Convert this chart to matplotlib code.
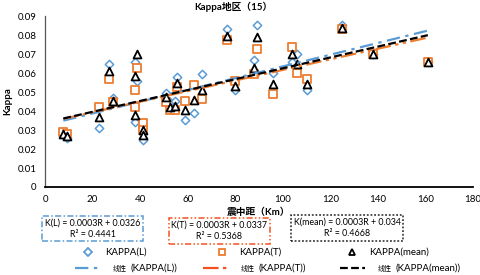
import matplotlib

matplotlib.use("Agg")

import matplotlib.pyplot as plt  # noqa: E402
import numpy as np  # noqa: E402
from matplotlib.lines import Line2D  # noqa: E402

plt.rcParams["font.family"] = ["Lato", "Noto Sans CJK SC", "DejaVu Sans"]

# epicentral distance (km) and kappa values
dist = [7.7, 9.1, 22.7, 26.9, 28.7, 37.8, 37.8, 38.8, 41.1, 41.1,
        51.0, 52.6, 54.7, 55.6, 58.9, 62.8, 65.9, 76.7, 79.9, 88.0,
        89.0, 96.0, 103.7, 106.0, 110.0, 125.0, 138.0, 161.0]
kappa_l = [0.0275, 0.026, 0.031, 0.065, 0.0466, 0.0659, 0.0343, 0.0557, 0.026, 0.0246,
           0.0496, 0.0445, 0.0452, 0.058, 0.0355, 0.0392, 0.0594, 0.0831, 0.051, 0.0668,
           0.0852, 0.060, 0.0659, 0.070, 0.0513, 0.0852, 0.070, 0.0656]
kappa_t = [0.0287, 0.0278, 0.0419, 0.0571, 0.0445, 0.051, 0.0422, 0.0627, 0.0337, 0.030,
           0.0448, 0.0404, 0.0404, 0.0524, 0.0453, 0.0536, 0.0461, 0.0773, 0.0559, 0.0594,
           0.0726, 0.0488, 0.0735, 0.0598, 0.0568, 0.083, 0.070, 0.0656]
kappa_mean = [0.028, 0.0268, 0.0366, 0.061, 0.0455, 0.0585, 0.0378, 0.070, 0.030, 0.0272,
              0.0472, 0.0422, 0.0424, 0.0548, 0.0405, 0.0457, 0.0513, 0.0796, 0.0532, 0.0627,
              0.079, 0.0541, 0.070, 0.0648, 0.0542, 0.0835, 0.0698, 0.0656]

eq_texts = ["K(L) = 0.0003R + 0.0326\nR² = 0.4441",
            "K(T) = 0.0003R + 0.0337\nR² = 0.5368",
            "K(mean) = 0.0003R + 0.034\nR² = 0.4668"]

BLUE = "#5B9BD5"
ORANGE = "#ED7D31"
BLACK = "#000000"

fig = plt.figure(figsize=(4.81, 2.75), dpi=100)
ax = fig.add_axes([0.0936, 0.32, 0.8898, 0.6218])

ax.scatter(dist, kappa_l, marker="D", s=18, facecolors="white",
           edgecolors=BLUE, linewidths=1.1, zorder=3)
ax.scatter(dist, kappa_t, marker="s", s=28, facecolors="white",
           edgecolors=ORANGE, linewidths=1.3, zorder=4)
ax.scatter(dist, kappa_mean, marker="^", s=32, facecolors="white",
           edgecolors=BLACK, linewidths=1.3, zorder=5)

xs = np.array([min(dist), max(dist)])
styles = [
    (kappa_l, BLUE, (0, (6, 2.5, 1.5, 2.5))),
    (kappa_t, ORANGE, (0, (7, 2, 1.5, 2, 1.5, 2))),
    (kappa_mean, BLACK, (0, (3.5, 1.5))),
]
for vals, col, ls in styles:
    k, b = np.polyfit(dist, vals, 1)
    ax.plot(xs, k * xs + b, color=col, linestyle=ls, linewidth=1.6, zorder=6)

ax.set_xlim(0, 180)
ax.set_ylim(0, 0.09)
ax.set_xticks(np.arange(0, 181, 20))
ax.set_yticks(np.arange(0, 0.091, 0.01))
ax.set_yticklabels(["0"] + [f"{v:.2f}" for v in np.arange(0.01, 0.091, 0.01)])
ax.tick_params(length=0, labelsize=7, pad=6)
for s in ("top", "right"):
    ax.spines[s].set_visible(False)
ax.spines["left"].set_color("#555555")
ax.spines["left"].set_linewidth(0.9)
ax.spines["bottom"].set_linewidth(1.3)

ax.set_xlabel("震中距（Km）", fontsize=7, fontweight="bold", labelpad=2)
ax.set_ylabel("Kappa", fontsize=7, fontweight="bold", labelpad=4)
fig.text(0.485, 0.975, "Kappa地区（15）", fontsize=7, fontweight="bold",
         ha="center", va="center")

# equation boxes
boxes = [
    (0.193, 0.169, BLUE, (0, (4, 1.5, 1, 1.5))),
    (0.456, 0.160, "#F4511E", (0, (4, 1.5, 1, 1.5, 1, 1.5))),
    (0.722, 0.171, "#222222", (0, (1.2, 1.2))),
]
for (cx, cy, col, ls), txt in zip(boxes, eq_texts):
    fig.text(cx, cy, txt, fontsize=6.4, ha="center", va="center",
             linespacing=1.35,
             bbox=dict(boxstyle="square,pad=0.3", facecolor="white",
                       edgecolor=col, linestyle=ls, linewidth=1.1))

# legend row 1: markers
marker_items = [(0.183, "D", BLUE, 4, "KAPPA(L)"),
                (0.462, "s", ORANGE, 5, "KAPPA(T)"),
                (0.732, "^", BLACK, 5, "KAPPA(mean)")]
for x, m, col, ms, lab in marker_items:
    fig.add_artist(Line2D([x], [0.083], marker=m, markersize=ms, markerfacecolor="white",
                          markeredgecolor=col, markeredgewidth=1.3, linestyle="none",
                          transform=fig.transFigure))
    fig.text(x + 0.036, 0.083, lab, fontsize=7, va="center")

# legend row 2: trendlines
line_items = [(0.156, BLUE, (0, (6, 2.5, 1.5, 2.5)), "KAPPA(L)"),
              (0.422, "#F4511E", (0, (7, 2, 1.5, 2, 1.5, 2)), "KAPPA(T)"),
              (0.707, BLACK, (0, (3.5, 1.5)), "KAPPA(mean)")]
for x, col, ls, lab in line_items:
    fig.add_artist(Line2D([x, x + 0.052], [0.025, 0.025], color=col, linestyle=ls,
                          linewidth=1.6, transform=fig.transFigure))
    fig.text(x + 0.078, 0.025, "线性", fontsize=5, va="center")
    fig.text(x + 0.115, 0.025, f"({lab})", fontsize=7, va="center")

fig.savefig("out.png", dpi=100)
plt.close(fig)
